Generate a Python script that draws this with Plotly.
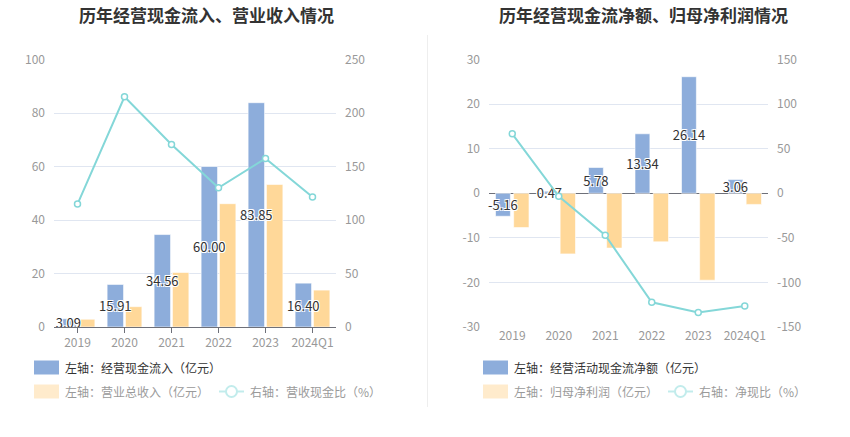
import plotly.graph_objects as go

categories = ["2019", "2020", "2021", "2022", "2023", "2024Q1"]

# Left chart
cash_inflow = [3.09, 15.91, 34.56, 60.00, 83.85, 16.40]
revenue = [2.9, 7.6, 20.4, 46.1, 53.3, 13.8]
cash_rev_ratio = [114.9, 215.1, 170.6, 130.1, 157.5, 121.4]

# Right chart
net_cash_flow = [-5.16, 0.47, 5.78, 13.34, 26.14, 3.06]
net_profit = [-7.7, -13.6, -12.3, -10.9, -19.5, -2.5]
net_cash_ratio = [66.6, -3.4, -47.1, -122.3, -133.6, -126.4]

left_ticks = [0, 20, 40, 60, 80, 100]
left_ticks_r = [0, 50, 100, 150, 200, 250]
right_ticks = [-30, -20, -10, 0, 10, 20, 30]
right_ticks_r = [-150, -100, -50, 0, 50, 100, 150]

BLUE = "#8DADDB"
ORANGE = "#FFD899"
LINE = "#84D7D8"
FONT = "Noto Sans CJK SC"
W, H = 850, 437

def fx(px):
    return px / W

def fy(py):
    return 1 - py / H

shadow = "-1px -1px 0 #fff, 1px -1px 0 #fff, -1px 1px 0 #fff, 1px 1px 0 #fff"

fig = go.Figure()

label_font = dict(color="#333", size=13, family=FONT, shadow=shadow)
line_marker = dict(symbol="circle", size=6, color="white", line=dict(color=LINE, width=1.5))
bar_edge = dict(width=1, color="rgba(255,255,255,0.6)")

# Left chart: orange first so blue labels are drawn on top
fig.add_trace(go.Bar(x=categories, y=revenue, xaxis="x", yaxis="y",
                     marker=dict(color=ORANGE, line=bar_edge),
                     offset=0.02, width=0.35, hoverinfo="y"))
fig.add_trace(go.Bar(x=categories, y=cash_inflow, xaxis="x", yaxis="y",
                     marker=dict(color=BLUE, line=bar_edge),
                     offset=-0.37, width=0.35,
                     text=[f"{v:.2f}" for v in cash_inflow], textposition="inside",
                     insidetextanchor="middle", constraintext="none", textangle=0,
                     textfont=label_font, cliponaxis=False, hoverinfo="y"))
fig.add_trace(go.Scatter(x=categories, y=cash_rev_ratio, xaxis="x", yaxis="y2",
                         mode="lines+markers", line=dict(color=LINE, width=2),
                         marker=line_marker))

# Right chart
fig.add_trace(go.Bar(x=categories, y=net_profit, xaxis="x2", yaxis="y3",
                     marker=dict(color=ORANGE, line=bar_edge),
                     offset=0.03, width=0.33, hoverinfo="y"))
fig.add_trace(go.Bar(x=categories, y=net_cash_flow, xaxis="x2", yaxis="y3",
                     marker=dict(color=BLUE, line=bar_edge),
                     offset=-0.36, width=0.32,
                     text=[f"{v:.2f}" for v in net_cash_flow], textposition="inside",
                     insidetextanchor="middle", constraintext="none", textangle=0,
                     textfont=label_font, cliponaxis=False, hoverinfo="y"))
fig.add_trace(go.Scatter(x=categories, y=net_cash_ratio, xaxis="x2", yaxis="y4",
                         mode="lines+markers", line=dict(color=LINE, width=2),
                         marker=line_marker))

tickfont = dict(color="#999999", size=12, family=FONT)
grid = "#E0E6F1"

fig.update_layout(
    width=W, height=H,
    margin=dict(l=0, r=0, t=0, b=0, pad=0, autoexpand=False),
    paper_bgcolor="white", plot_bgcolor="white",
    showlegend=False, barmode="overlay",
    font=dict(family=FONT),
    xaxis=dict(domain=[fx(54), fx(336)], type="category", tickfont=tickfont,
               showline=True, linecolor="#6E7079", ticks="outside", ticklen=5,
               tickcolor="#6E7079", showgrid=False, anchor="y", automargin=False),
    yaxis=dict(domain=[fy(327), fy(59.5)], range=[0, 100], tickvals=left_ticks,
               tickfont=tickfont, gridcolor=grid, showline=False, zeroline=False,
               ticks="", ticklabelstandoff=8, anchor="x", automargin=False),
    yaxis2=dict(overlaying="y", side="right", range=[0, 250], tickvals=left_ticks_r,
                tickfont=tickfont, showgrid=False, zeroline=False, showline=False,
                ticklabelstandoff=8, anchor="x", automargin=False),
    xaxis2=dict(domain=[fx(489), fx(768)], type="category", tickfont=tickfont,
                showline=False, ticks="", showgrid=False, anchor="y3", automargin=False),
    yaxis3=dict(domain=[fy(327), fy(59.5)], range=[-30, 30], tickvals=right_ticks,
                ticktext=[str(v) for v in right_ticks],
                tickfont=tickfont, gridcolor=grid, zeroline=True, zerolinecolor="#6E7079",
                zerolinewidth=1, showline=False, ticklabelstandoff=8, anchor="x2",
                automargin=False),
    yaxis4=dict(overlaying="y3", side="right", range=[-150, 150], tickvals=right_ticks_r,
                ticktext=[str(v) for v in right_ticks_r],
                tickfont=tickfont, showgrid=False, zeroline=False, showline=False,
                ticklabelstandoff=8, anchor="x2", automargin=False),
)

annotations = [
    dict(text="<b>历年经营现金流入、营业收入情况</b>", x=fx(206), y=fy(14),
         xref="paper", yref="paper", showarrow=False,
         font=dict(size=17, color="#333", family=FONT), xanchor="center", yanchor="middle"),
    dict(text="<b>历年经营现金流净额、归母净利润情况</b>", x=fx(643), y=fy(14),
         xref="paper", yref="paper", showarrow=False,
         font=dict(size=17, color="#333", family=FONT), xanchor="center", yanchor="middle"),
]
shapes = [dict(type="line", xref="paper", yref="paper", x0=fx(427.5), x1=fx(427.5),
               y0=fy(35), y1=fy(407), line=dict(color="#EEEEEE", width=1))]

def legend_box(x0, yc, color):
    shapes.append(dict(type="rect", xref="paper", yref="paper",
                       x0=fx(x0), x1=fx(x0 + 25), y0=fy(yc + 7), y1=fy(yc - 7),
                       fillcolor=color, line=dict(width=0), layer="above"))

def legend_line(x0, yc, color):
    shapes.append(dict(type="line", xref="paper", yref="paper",
                       x0=fx(x0), x1=fx(x0 + 25), y0=fy(yc), y1=fy(yc),
                       line=dict(color=color, width=2)))
    shapes.append(dict(type="circle", xref="paper", yref="paper",
                       x0=fx(x0 + 7), x1=fx(x0 + 18), y0=fy(yc + 5.5), y1=fy(yc - 5.5),
                       fillcolor="white", line=dict(color=color, width=2)))

def legend_text(x, yc, text, color):
    annotations.append(dict(text=text, x=fx(x), y=fy(yc), xref="paper", yref="paper",
                            showarrow=False, xanchor="left", yanchor="middle",
                            font=dict(size=12, color=color, family=FONT)))

# Left legend
legend_box(34, 367.5, BLUE)
legend_text(63, 367.5, "左轴：经营现金流入（亿元）", "#333")
legend_box(34, 391.5, "#FFEBCC")
legend_text(63, 391.5, "左轴：营业总收入（亿元）", "#9a9a9a")
legend_line(219, 391.5, "#C2ECEC")
legend_text(248, 391.5, "右轴：营收现金比（%）", "#9a9a9a")

# Right legend
legend_box(483, 367.5, BLUE)
legend_text(512, 367.5, "左轴：经营活动现金流净额（亿元）", "#333")
legend_box(483, 391.5, "#FFEBCC")
legend_text(512, 391.5, "左轴：归母净利润（亿元）", "#9a9a9a")
legend_line(668, 391.5, "#C2ECEC")
legend_text(697, 391.5, "右轴：净现比（%）", "#9a9a9a")

fig.update_layout(annotations=annotations, shapes=shapes)

fig.write_html("out.html",
               config={"displayModeBar": False},
               post_script="document.body.style.margin='0';document.body.style.overflow='hidden';")
